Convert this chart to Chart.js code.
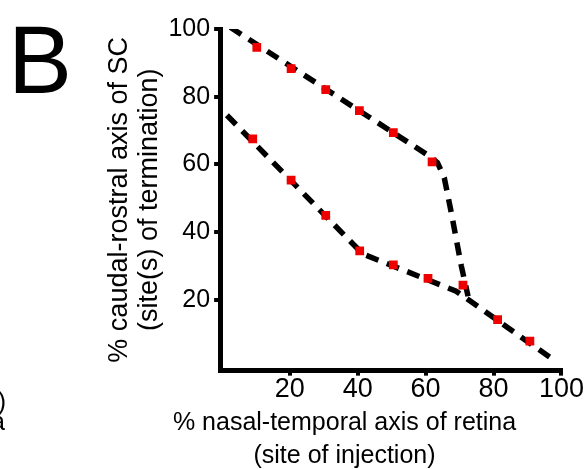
<!DOCTYPE html>
<html>
<head>
<meta charset="utf-8">
<script src="https://cdn.jsdelivr.net/npm/chart.js@4"></script>
<style>
  body { margin: 0; background: #fff; }
  #wrap { width: 584px; height: 469px; }
</style>
</head>
<body>
<div id="wrap"><canvas id="scatter-chart"></canvas></div>
<script>
// red squares: injection site (x) vs termination site (y)
const upperX = [10.3, 20.4, 30.6, 40.5, 50.5, 61.9];
const upperY = [94.6, 88.3, 82.1, 75.9, 69.4, 60.7];
const lowerX = [9.1, 20.4, 30.6, 40.6, 50.5, 60.7, 71.0, 81.2, 90.7];
const lowerY = [67.5, 55.3, 44.9, 34.4, 30.3, 26.3, 24.3, 14.1, 7.7];

// dashed fit lines
const fitUpperX = [2.5, 61, 63.5, 65.5, 67.5, 70.5, 72.5];
const fitUpperY = [100.5, 62.5, 60.5, 56, 46, 30, 21];
const fitLowerX = [1.5, 41.5, 69, 96.5];
const fitLowerY = [74.5, 33.5, 22.5, 3];

const xTicks = [20, 40, 60, 80, 100];
const yTicks = [20, 40, 60, 80, 100];

const xTitle = ['% nasal-temporal axis of retina', '(site of injection)'];
const yTitle = ['% caudal-rostral axis of SC', '(site(s) of termination)'];

function pairs(xs, ys) {
  return xs.map(function(x, i) { return {x: x, y: ys[i]}; });
}

const FONT = 'Liberation Sans, Arial, sans-serif';

// panel letter and the clipped bits of the neighbouring panel
const panelText = {
  id: 'panelText',
  afterDraw: function(chart) {
    const c = chart.ctx;
    c.save();
    c.fillStyle = '#000';
    c.textBaseline = 'alphabetic';
    c.textAlign = 'left';
    c.font = '96px ' + FONT;
    c.fillText('B', 8, 93);
    c.textAlign = 'right';
    c.font = '25px ' + FONT;
    c.fillText('n)', 6, 410);
    c.fillText('na', 5, 430);
    c.restore();
  }
};

var ctx = document.getElementById('scatter-chart');

const data = {
  datasets: [{
    label: 'sites',
    data: pairs(upperX, upperY).concat(pairs(lowerX, lowerY)),
    pointStyle: 'rect',
    pointRadius: 6.2,
    pointBorderWidth: 0,
    backgroundColor: 'rgb(238, 0, 0)',
    showLine: false
  }, {
    label: 'fit upper',
    data: pairs(fitUpperX, fitUpperY),
    showLine: true,
    borderColor: '#000',
    borderWidth: 5.5,
    borderDash: [13, 9],
    pointRadius: 0,
    tension: 0
  }, {
    label: 'fit lower',
    data: pairs(fitLowerX, fitLowerY),
    showLine: true,
    borderColor: '#000',
    borderWidth: 5.5,
    borderDash: [13, 9],
    pointRadius: 0,
    tension: 0
  }]
};

const config = {
  type: 'scatter',
  data: data,
  options: {
    responsive: true,
    maintainAspectRatio: false,
    animation: false,
    layout: { padding: { left: 105, right: 0, top: 29, bottom: 0 } },
    plugins: {
      legend: { display: false },
      tooltip: { enabled: false },
      title: {
        display: true,
        position: 'bottom',
        text: xTitle,
        color: '#000',
        font: { family: FONT, size: 25, weight: 'normal', lineHeight: 1.3 },
        padding: { top: 3, bottom: -3 }
      }
    },
    scales: {
      x: {
        type: 'linear',
        min: -0.5,
        max: 100,
        afterBuildTicks: function(axis) {
          axis.ticks = xTicks.map(function(v) { return {value: v}; });
        },
        grid: { display: true, drawOnChartArea: false, drawTicks: true, tickLength: 5, lineWidth: 4, color: '#000' },
        border: { display: true, color: '#000', width: 5 },
        ticks: { color: '#000', padding: 0, maxRotation: 0, font: { family: FONT, size: 27, lineHeight: 1.05 } }
      },
      y: {
        type: 'linear',
        min: -1,
        max: 100,
        afterBuildTicks: function(axis) {
          axis.ticks = yTicks.map(function(v) { return {value: v}; });
        },
        grid: { display: true, drawOnChartArea: false, drawTicks: true, tickLength: 6, lineWidth: 4, color: '#000' },
        border: { display: true, color: '#000', width: 5 },
        ticks: { color: '#000', padding: 4, font: { family: FONT, size: 25 } },
        title: {
          display: true,
          text: yTitle,
          color: '#000',
          font: { family: FONT, size: 27, lineHeight: 1.1 },
          padding: { top: 0, bottom: 0 }
        }
      }
    }
  },
  plugins: [panelText]
};

var chart = new Chart(ctx, config);
</script>
</body>
</html>
